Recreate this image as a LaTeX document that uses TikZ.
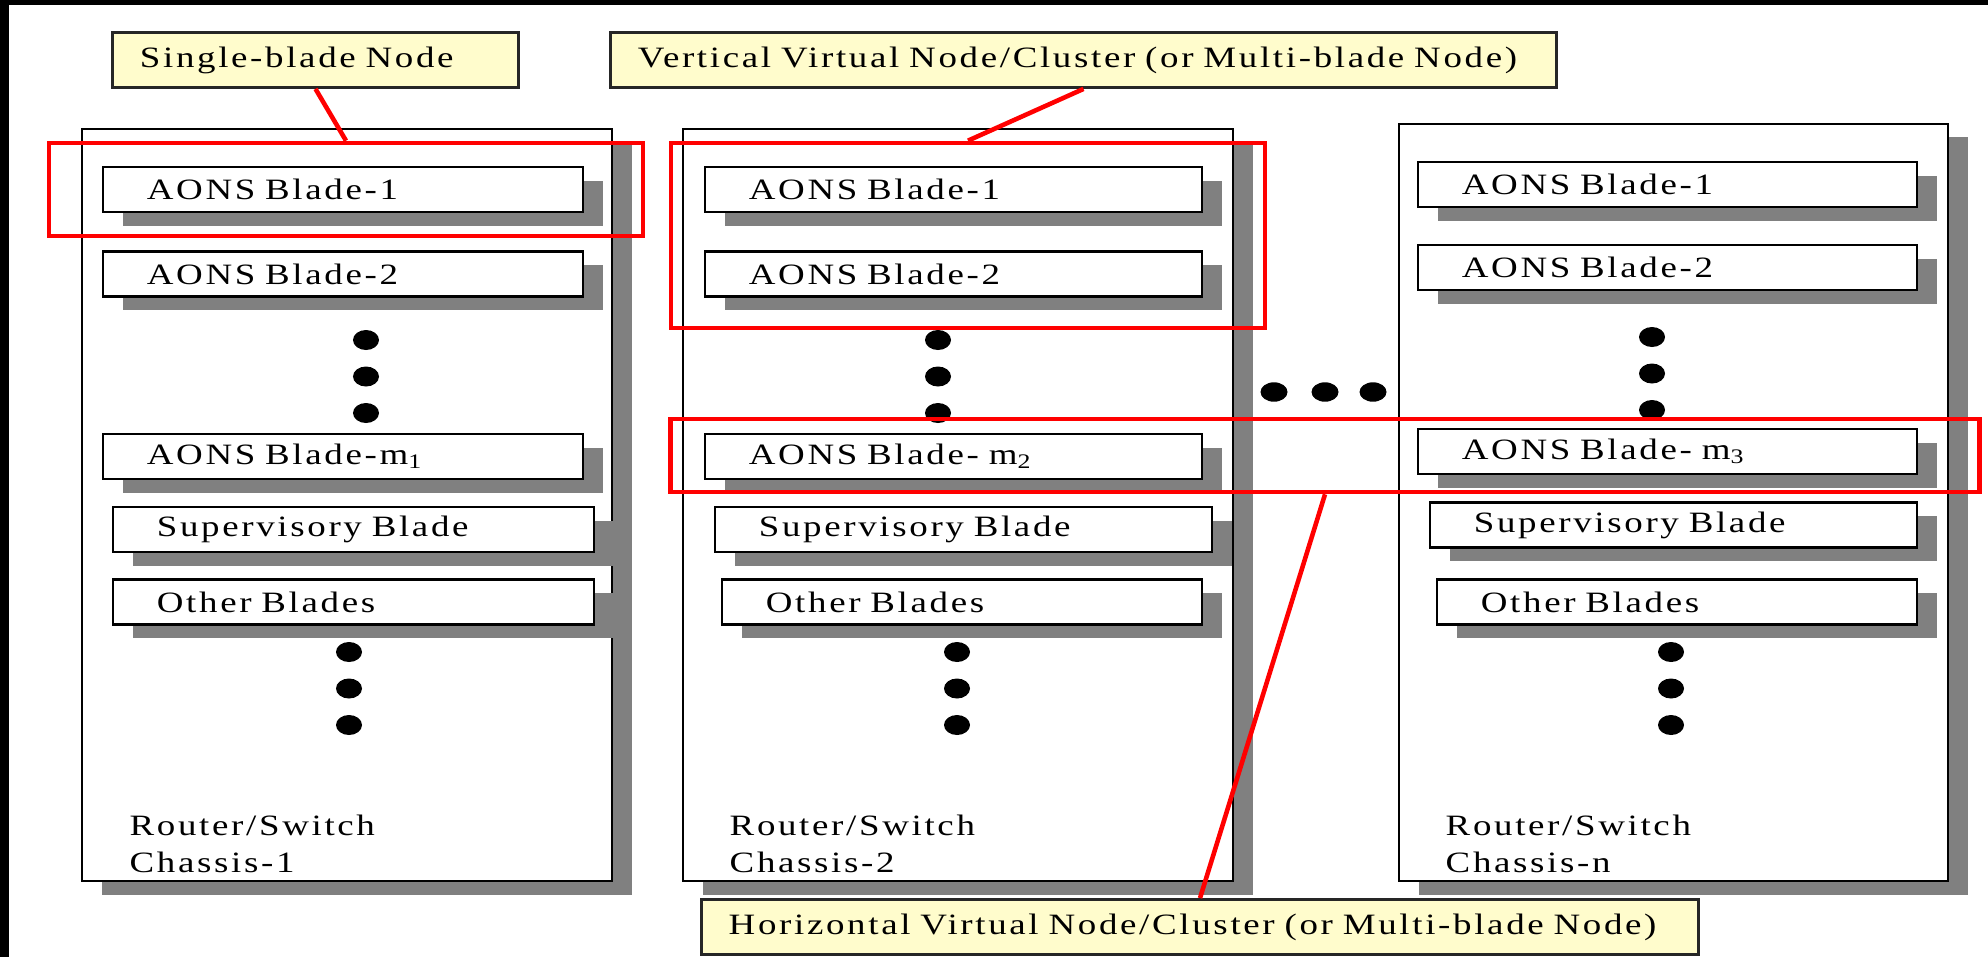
\documentclass[tikz,border=0pt]{standalone}
\usepackage{fontspec}
\setmainfont{Liberation Serif}[FakeStretch=1.25,LetterSpace=9]
\usetikzlibrary{shadows, positioning}
\tikzstyle{txt} = [font=\fontsize{8.4}{10}\selectfont]
\tikzstyle{grayShadow} = [drop shadow={shadow xshift=0.2cm, shadow yshift=-0.135cm, fill=black!50, opacity=1}]
\tikzstyle{chassisNode} = [rectangle, draw=black, line width=0.6pt, fill=white, inner sep=0pt, grayShadow]
\tikzstyle{bladeNode} = [rectangle, draw=black, line width=0.6pt, fill=white, minimum height=0.45cm, inner xsep=0.44cm, inner ysep=0pt, align=left, txt, grayShadow]
\tikzstyle{groupBox} = [rectangle, draw=red, line width=1.3pt, inner sep=0pt]
\tikzstyle{labelBox} = [rectangle, draw=black!85, line width=0.8pt, fill=yellow!20, minimum height=0.55cm, inner xsep=0.27cm, inner ysep=0pt, align=left, txt]
\tikzstyle{chassisTxt} = [txt, inner sep=0pt, anchor=base west]
\tikzstyle{redLine} = [draw=red, line width=1.3pt]

\begin{document}
\begin{tikzpicture}[x=0.01cm, y=-0.01cm]
        \fill [white] (0,0) rectangle (1988,957);
        \fill [black] (0,0) rectangle (9,957);
        \fill [black] (0,0) rectangle (1988,5);
        \useasboundingbox (0,0) rectangle (1988,957);

        % chassis boxes
        \node (ch1) [chassisNode, minimum width=5.30cm, minimum height=7.52cm] at (347,505) {};
        \node (ch2) [chassisNode, minimum width=5.50cm, minimum height=7.52cm] at (958,505) {};
        \node (chn) [chassisNode, minimum width=5.49cm, minimum height=7.57cm] at (1673.5,502.5) {};

        % blades, chassis 1
        \node (b11) [bladeNode, text width=3.92cm] at (343,189.5) {AONS Blade-1};
        \node (b12) [bladeNode, text width=3.92cm] at (343,274) {AONS Blade-2};
        \node (b1m) [bladeNode, text width=3.92cm] at (343,456.5) {AONS Blade-m\textsubscript{1}};
        \node (sup1) [bladeNode, text width=3.93cm] at (353.5,529.5) {Supervisory Blade};
        \node (oth1) [bladeNode, text width=3.93cm] at (353.5,602) {Other Blades};
        % blades, chassis 2
        \node (b21) [bladeNode, text width=4.09cm] at (953.5,189.5) {AONS Blade-1};
        \node (b22) [bladeNode, text width=4.09cm] at (953.5,274) {AONS Blade-2};
        \node (b2m) [bladeNode, text width=4.09cm] at (953.5,456.5) {AONS Blade- m\textsubscript{2}};
        \node (sup2) [bladeNode, text width=4.09cm] at (963.5,529.5) {Supervisory Blade};
        \node (oth2) [bladeNode, text width=3.92cm] at (962,602) {Other Blades};
        % blades, chassis n
        \node (bn1) [bladeNode, text width=4.11cm] at (1667.5,184.5) {AONS Blade-1};
        \node (bn2) [bladeNode, text width=4.11cm] at (1667.5,267.5) {AONS Blade-2};
        \node (bnm) [bladeNode, text width=4.11cm] at (1667.5,451.5) {AONS Blade- m\textsubscript{3}};
        \node (supn) [bladeNode, text width=3.99cm] at (1673.5,525) {Supervisory Blade};
        \node (othn) [bladeNode, text width=3.92cm] at (1677,602) {Other Blades};

        \node (rs1) [chassisTxt] at (129,835) {Router/Switch};
        \node (cs1) [chassisTxt] at (129,872) {Chassis-1};
        \node (rs2) [chassisTxt] at (729,835) {Router/Switch};
        \node (cs2) [chassisTxt] at (729,872) {Chassis-2};
        \node (rsn) [chassisTxt] at (1445,835) {Router/Switch};
        \node (csn) [chassisTxt] at (1445,872) {Chassis-n};

        % dots
        \foreach \cx/\cy in {366/340, 938/340, 1652/337, 349/652, 957/652, 1671/652} {
            \foreach \k in {0,1,2}
                \fill (\cx,{\cy+36.5*\k}) ellipse [x radius=0.13cm, y radius=0.1cm];
        }
        \foreach \cx in {1274,1325,1373}
            \fill (\cx,392) ellipse [x radius=0.135cm, y radius=0.097cm];

        % node groups
        \node (grp1) [groupBox, minimum width=5.94cm, minimum height=0.93cm] at (346,189.5) {};
        \node (grp2) [groupBox, minimum width=5.94cm, minimum height=1.85cm] at (968,235.5) {};
        \node (grp3) [groupBox, minimum width=13.08cm, minimum height=0.73cm] at (1325,455.5) {};

        \node (lblSingle) [labelBox, text width=3.51cm] at (315.5,60) {Single-blade Node};
        \node (lblVert) [labelBox, text width=8.91cm] at (1083.5,60) {Vertical Virtual Node/Cluster (or Multi-blade Node)};
        \node (lblHor) [labelBox, text width=9.42cm] at (1200,927) {Horizontal Virtual Node/Cluster (or Multi-blade Node)};

        \draw [redLine] (lblSingle.south) -- (grp1.north);
        \draw [redLine] (lblVert.south) -- (grp2.north);
        \draw [redLine] (grp3.south) -- (lblHor.north);
\end{tikzpicture}
\end{document}
